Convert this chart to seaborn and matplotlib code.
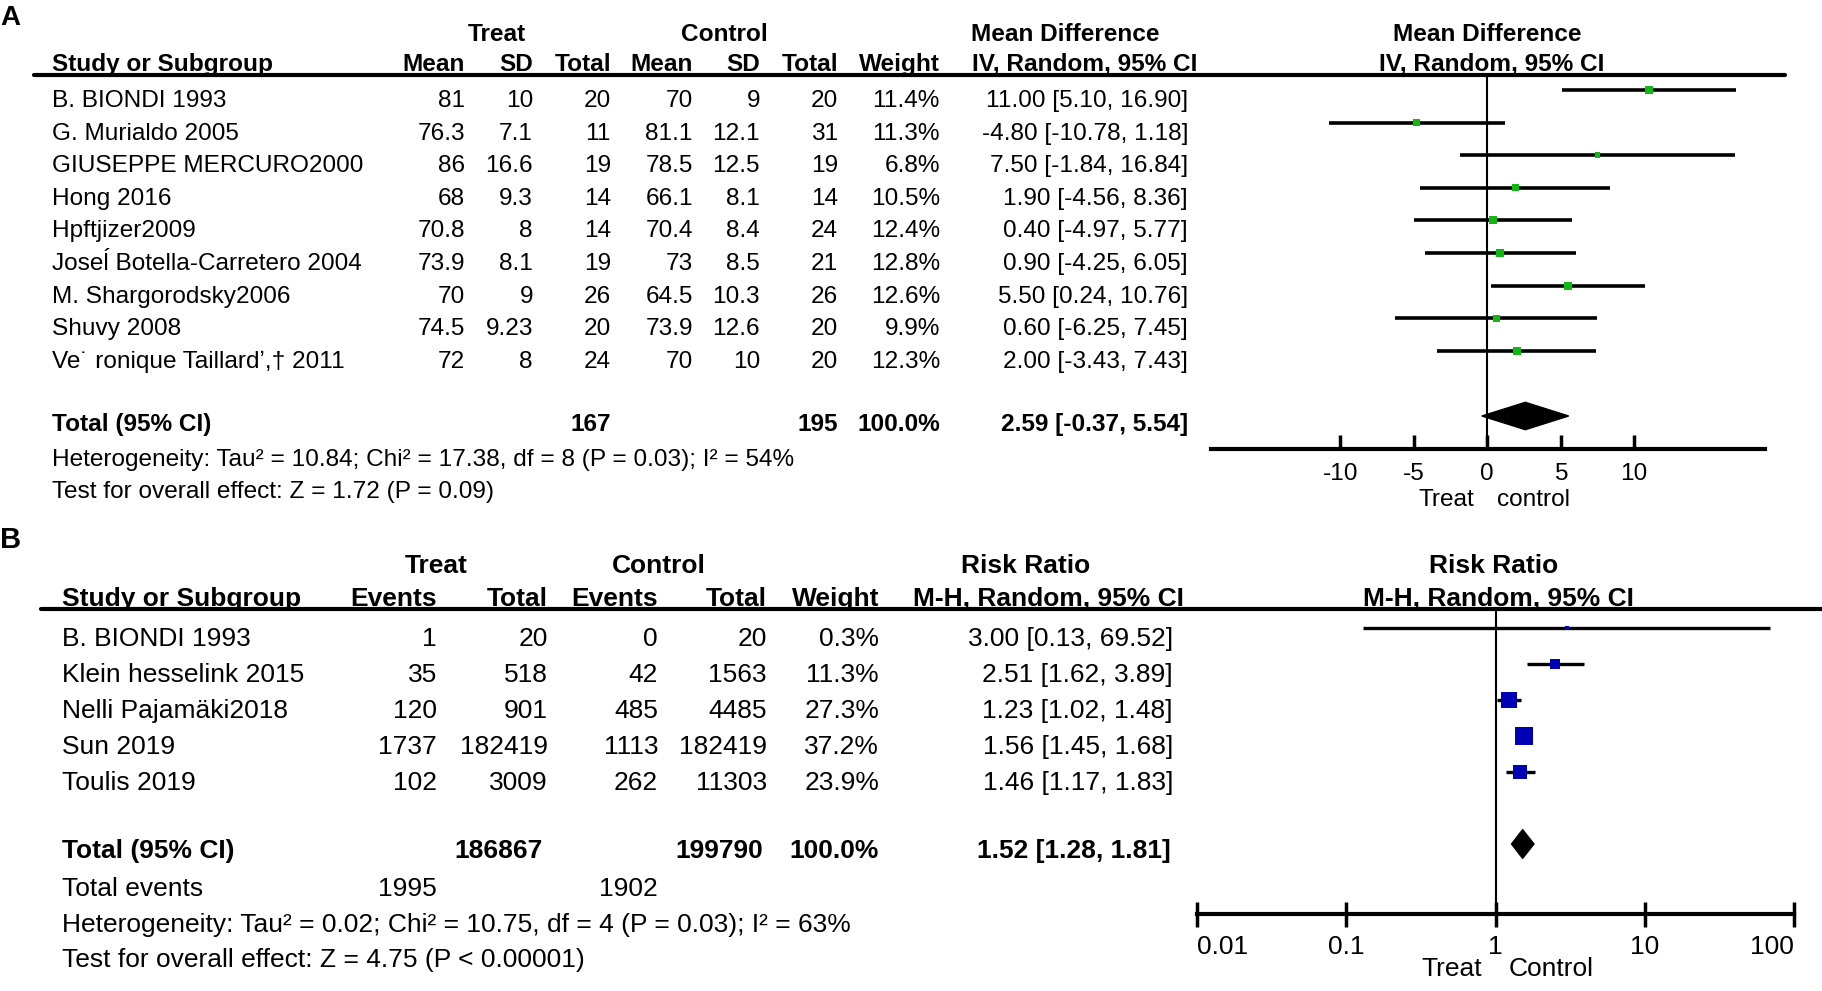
import numpy as np
import pandas as pd
import matplotlib
matplotlib.use('Agg')
import matplotlib.pyplot as plt
import seaborn as sns

# ---- panel A : mean difference ----
studies_a = ['B. BIONDI 1993', 'G. Murialdo 2005', 'GIUSEPPE MERCURO2000', 'Hong 2016',
             'Hpftjizer2009', 'Joseĺ Botella-Carretero 2004', 'M. Shargorodsky2006',
             'Shuvy 2008', 'Ve˙ ronique Taillard\u02bc,\u2020 2011']
treat_mean_a = [81, 76.3, 86, 68, 70.8, 73.9, 70, 74.5, 72]
treat_sd_a = [10, 7.1, 16.6, 9.3, 8, 8.1, 9, 9.23, 8]
treat_n_a = [20, 11, 19, 14, 14, 19, 26, 20, 24]
ctrl_mean_a = [70, 81.1, 78.5, 66.1, 70.4, 73, 64.5, 73.9, 70]
ctrl_sd_a = [9, 12.1, 12.5, 8.1, 8.4, 8.5, 10.3, 12.6, 10]
ctrl_n_a = [20, 31, 19, 14, 24, 21, 26, 20, 20]
weight_a = [11.4, 11.3, 6.8, 10.5, 12.4, 12.8, 12.6, 9.9, 12.3]
md_a = [11.00, -4.80, 7.50, 1.90, 0.40, 0.90, 5.50, 0.60, 2.00]
lo_a = [5.10, -10.78, -1.84, -4.56, -4.97, -4.25, 0.24, -6.25, -3.43]
hi_a = [16.90, 1.18, 16.84, 8.36, 5.77, 6.05, 10.76, 7.45, 7.43]
pooled_a = [2.59, -0.37, 5.54]
ticks_a = [-10, -5, 0, 5, 10]

# ---- panel B : risk ratio ----
studies_b = ['B. BIONDI 1993', 'Klein hesselink 2015', 'Nelli Pajamäki2018', 'Sun 2019', 'Toulis 2019']
treat_events_b = [1, 35, 120, 1737, 102]
treat_n_b = [20, 518, 901, 182419, 3009]
ctrl_events_b = [0, 42, 485, 1113, 262]
ctrl_n_b = [20, 1563, 4485, 182419, 11303]
weight_b = [0.3, 11.3, 27.3, 37.2, 23.9]
rr_b = [3.00, 2.51, 1.23, 1.56, 1.46]
lo_b = [0.13, 1.62, 1.02, 1.45, 1.17]
hi_b = [69.52, 3.89, 1.48, 1.68, 1.83]
pooled_b = [1.52, 1.28, 1.81]
ticks_b = [0.01, 0.1, 1, 10, 100]
tick_labels_b = ['0.01', '0.1', '1', '10', '100']

W, H = 1822, 991
FS_A = 17.6
FS_B = 19

sns.set_theme(style='white')
plt.rcParams['font.family'] = ['Liberation Sans', 'DejaVu Sans']

fig = plt.figure(figsize=(W / 100, H / 100), dpi=100)
bg = fig.add_axes([0, 0, 1, 1])
bg.set_xlim(0, W)
bg.set_ylim(H, 0)
bg.axis('off')


def px_axes(x0, x1, y0, y1):
    return fig.add_axes([x0 / W, 1 - y1 / H, (x1 - x0) / W, (y1 - y0) / H])


def txt(x, y, s, size, ha='left', bold=False):
    bg.text(x, y, s, ha=ha, va='baseline', fontsize=size,
            fontweight='bold' if bold else 'normal', color='black')


def num(v):
    return f'{v:g}'


def style_forest(ax, ylim):
    ax.set_ylim(*ylim)
    ax.set_facecolor('none')
    for side in ['top', 'left', 'right']:
        ax.spines[side].set_visible(False)
    ax.spines['bottom'].set_linewidth(3)
    ax.spines['bottom'].set_color('black')
    ax.set_yticks([])
    ax.set_ylabel('')
    ax.set_xlabel('')
    ax.grid(False)


# ================= panel A =================
fs = FS_A
row0_a, dy_a = 90, 32.6
txt(0, 25, 'A', 20, bold=True)
txt(497, 41, 'Treat', fs, ha='center', bold=True)
txt(724, 41, 'Control', fs, ha='center', bold=True)
txt(1065, 41, 'Mean Difference', fs, ha='center', bold=True)
txt(1487, 41, 'Mean Difference', fs, ha='center', bold=True)

cols_a = [465, 533, 611, 693, 760, 838, 940, 1188]
txt(52, 71, 'Study or Subgroup', fs, bold=True)
for x, h in zip(cols_a[:7], ['Mean', 'SD', 'Total', 'Mean', 'SD', 'Total', 'Weight']):
    txt(x, 71, h, fs, ha='right', bold=True)
txt(1085, 71, 'IV, Random, 95% CI', fs, ha='center', bold=True)
txt(1492, 71, 'IV, Random, 95% CI', fs, ha='center', bold=True)
bg.plot([34, 1785], [75, 75], color='black', lw=3)

for i, name in enumerate(studies_a):
    yb = row0_a + dy_a * i + 17
    txt(52, yb, name, fs)
    vals = [num(treat_mean_a[i]), num(treat_sd_a[i]), num(treat_n_a[i]),
            num(ctrl_mean_a[i]), num(ctrl_sd_a[i]), num(ctrl_n_a[i]),
            f'{weight_a[i]:.1f}%', f'{md_a[i]:.2f} [{lo_a[i]:.2f}, {hi_a[i]:.2f}]']
    for x, v in zip(cols_a, vals):
        txt(x, yb, v, fs, ha='right')

yt = row0_a + dy_a * 10 + 15
txt(52, yt, 'Total (95% CI)', fs, bold=True)
txt(cols_a[2], yt, str(sum(treat_n_a)), fs, ha='right', bold=True)
txt(cols_a[5], yt, str(sum(ctrl_n_a)), fs, ha='right', bold=True)
txt(cols_a[6], yt, f'{sum(weight_a):.1f}%', fs, ha='right', bold=True)
txt(cols_a[7], yt, f'{pooled_a[0]:.2f} [{pooled_a[1]:.2f}, {pooled_a[2]:.2f}]', fs, ha='right', bold=True)
txt(52, 466, 'Heterogeneity: Tau² = 10.84; Chi² = 17.38, df = 8 (P = 0.03); I² = 54%', fs)
txt(52, 498, 'Test for overall effect: Z = 1.72 (P = 0.09)', fs)

axA = px_axes(1211, 1765, 74, 449)
df_a = pd.DataFrame({'md': md_a, 'lo': lo_a, 'hi': hi_a, 'w': weight_a,
                     'row': np.arange(len(md_a))})
axA.axvline(0, color='black', lw=1.5, zorder=1)
axA.hlines(df_a['row'], df_a['lo'], df_a['hi'], color='black', lw=2.6, zorder=2)
sns.scatterplot(data=df_a, x='md', y='row', size='w', sizes=(0, 40 * 2.6), size_norm=(0, 40),
                marker='s', color='#12b812', linewidth=0, legend=False, ax=axA, zorder=3)
r = len(md_a) + 1
axA.fill([pooled_a[1], pooled_a[0], pooled_a[2], pooled_a[0]],
         [r, r - 0.42, r, r + 0.42], color='black', zorder=3)
axA.set_xlim(-18.8, 18.9)
style_forest(axA, ((449 - row0_a) / dy_a, (74 - row0_a) / dy_a))
axA.set_xticks(ticks_a)
axA.set_xticklabels([str(t) for t in ticks_a], fontsize=fs)
axA.tick_params(axis='x', direction='in', length=10, width=2.5, pad=10, bottom=True, colors='black')
txt(1474, 506, 'Treat', fs, ha='right')
txt(1497, 506, 'control', fs, ha='left')

# ================= panel B =================
fs = FS_B
row0_b, dy_b = 628, 36
txt(0, 548, 'B', 21, bold=True)
txt(436, 573, 'Treat', fs, ha='center', bold=True)
txt(659, 573, 'Control', fs, ha='center', bold=True)
txt(1026, 573, 'Risk Ratio', fs, ha='center', bold=True)
txt(1494, 573, 'Risk Ratio', fs, ha='center', bold=True)

cols_b = [437, 548, 658, 767, 879, 1173]
txt(62, 606, 'Study or Subgroup', fs, bold=True)
for x, h in zip(cols_b[:5], ['Events', 'Total', 'Events', 'Total', 'Weight']):
    txt(x, 606, h, fs, ha='right', bold=True)
txt(1048, 606, 'M-H, Random, 95% CI', fs, ha='center', bold=True)
txt(1498, 606, 'M-H, Random, 95% CI', fs, ha='center', bold=True)
bg.plot([41, W], [609, 609], color='black', lw=3)

for i, name in enumerate(studies_b):
    yb = row0_b + dy_b * i + 18
    txt(62, yb, name, fs)
    vals = [str(treat_events_b[i]), str(treat_n_b[i]), str(ctrl_events_b[i]), str(ctrl_n_b[i]),
            f'{weight_b[i]:.1f}%', f'{rr_b[i]:.2f} [{lo_b[i]:.2f}, {hi_b[i]:.2f}]']
    for x, v in zip(cols_b, vals):
        txt(x, yb, v, fs, ha='right')

yt = row0_b + dy_b * 6 + 14
txt(62, yt, 'Total (95% CI)', fs, bold=True)
txt(cols_b[1] - 5, yt, str(sum(treat_n_b)), fs, ha='right', bold=True)
txt(cols_b[3] - 4, yt, str(sum(ctrl_n_b)), fs, ha='right', bold=True)
txt(cols_b[4], yt, f'{sum(weight_b):.1f}%', fs, ha='right', bold=True)
txt(cols_b[5] - 2, yt, f'{pooled_b[0]:.2f} [{pooled_b[1]:.2f}, {pooled_b[2]:.2f}]', fs, ha='right', bold=True)
txt(62, 896, 'Total events', fs)
txt(cols_b[0], 896, str(sum(treat_events_b)), fs, ha='right')
txt(cols_b[2], 896, str(sum(ctrl_events_b)), fs, ha='right')
txt(62, 932, 'Heterogeneity: Tau² = 0.02; Chi² = 10.75, df = 4 (P = 0.03); I² = 63%', fs)
txt(62, 967, 'Test for overall effect: Z = 4.75 (P < 0.00001)', fs)

axB = px_axes(1197, 1794, 609, 914)
df_b = pd.DataFrame({'rr': rr_b, 'lo': lo_b, 'hi': hi_b, 'w': weight_b,
                     'row': np.arange(len(rr_b))})
axB.set_xscale('log')
axB.axvline(1, color='black', lw=1.5, zorder=1)
axB.hlines(df_b['row'], df_b['lo'], df_b['hi'], color='black', lw=2.4, zorder=2)
sns.scatterplot(data=df_b, x='rr', y='row', size='w', sizes=(6, 40 * 4.5), size_norm=(0, 40),
                marker='s', color='#0000b4', linewidth=0, legend=False, ax=axB, zorder=3)
r = len(rr_b) + 1
axB.fill([pooled_b[1], pooled_b[0], pooled_b[2], pooled_b[0]],
         [r, r - 0.4, r, r + 0.4], color='black', zorder=3)
axB.set_xlim(0.01, 100)
style_forest(axB, ((914 - row0_b) / dy_b, (609 - row0_b) / dy_b))
axB.set_xticks(ticks_b)
labs = axB.set_xticklabels(tick_labels_b, fontsize=fs)
labs[0].set_ha('left')
labs[-1].set_ha('right')
axB.xaxis.set_minor_locator(matplotlib.ticker.NullLocator())
axB.tick_params(axis='x', direction='inout', length=18, width=2.5, pad=6, bottom=True, colors='black')
txt(1482, 976, 'Treat', fs, ha='right')
txt(1509, 976, 'Control', fs, ha='left')

fig.savefig('out.png', dpi=100, facecolor='white')
